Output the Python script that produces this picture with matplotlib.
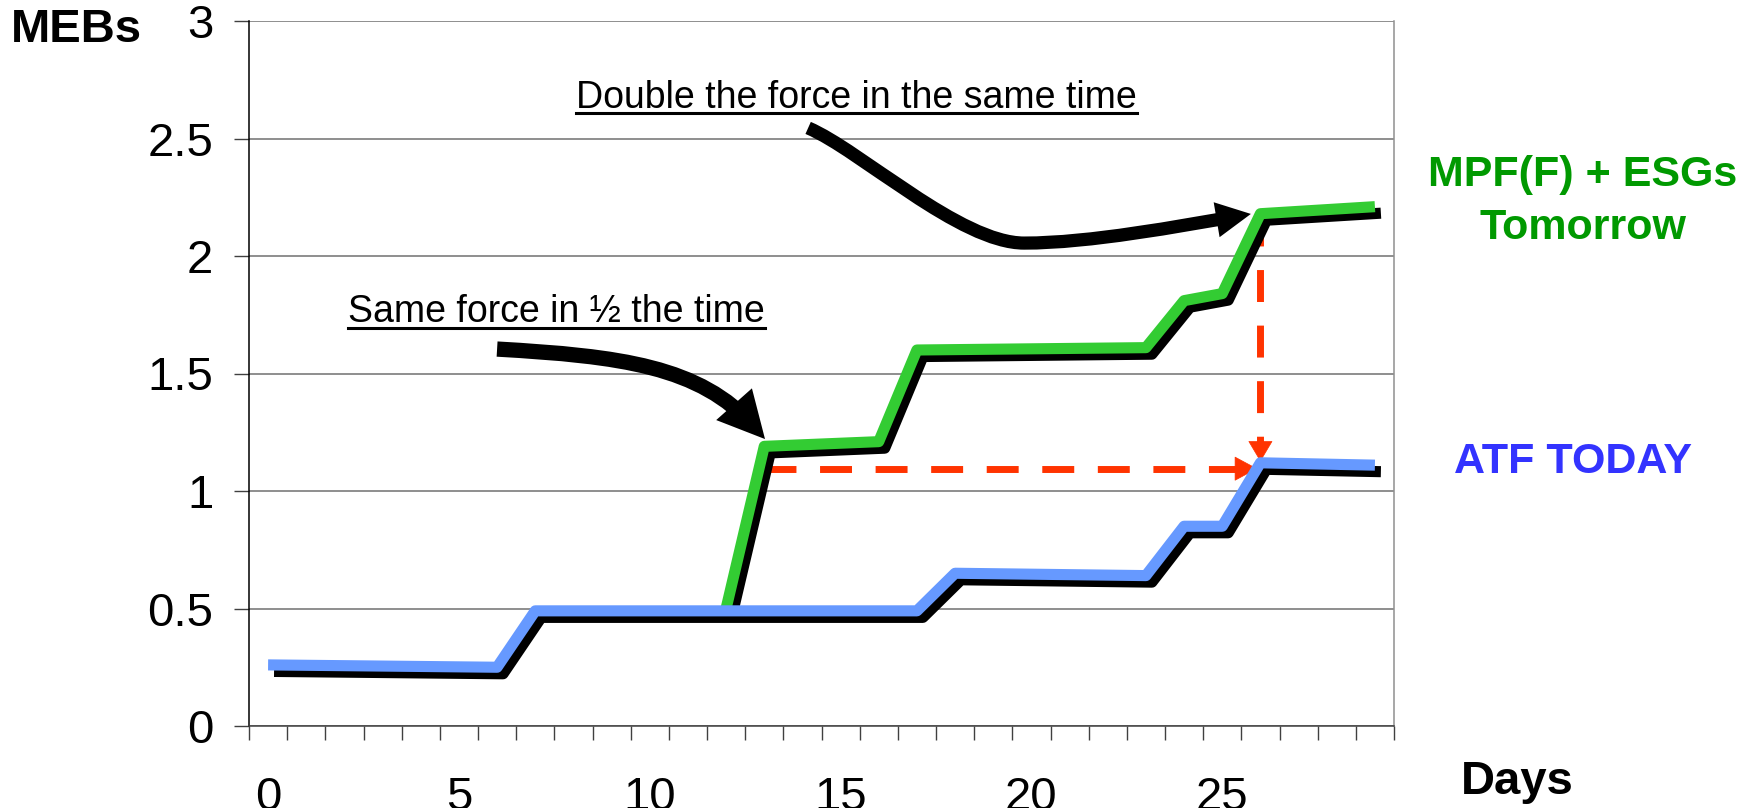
"""MEBs over days: ATF today versus MPF(F) + ESGs tomorrow."""

import matplotlib

matplotlib.use("Agg")
import matplotlib.patheffects as pe
import matplotlib.pyplot as plt
import numpy as np
from matplotlib.lines import Line2D
from matplotlib.patches import FancyArrowPatch
from matplotlib.path import Path

# --- data ------------------------------------------------------------------
atf_days = [0, 6, 7, 17, 18, 23, 24, 25, 26, 29]
atf_mebs = [0.26, 0.25, 0.49, 0.49, 0.65, 0.64, 0.85, 0.85, 1.12, 1.11]

mpf_days = [12, 13, 16, 17, 23, 24, 25, 26, 29]
mpf_mebs = [0.50, 1.19, 1.21, 1.60, 1.61, 1.81, 1.84, 2.18, 2.21]

x_tick_values = [0, 5, 10, 15, 20, 25]
y_tick_values = [0, 0.5, 1, 1.5, 2, 2.5, 3]
y_tick_labels = ["0", "0.5", "1", "1.5", "2", "2.5", "3"]

W, H = 1745, 808
GREEN_LINE = "#33CC33"
BLUE_LINE = "#6699FF"
RED = "#FF3300"


def fx(px):
    return px / W


def fy(py):
    return 1 - py / H


plt.rcParams["font.family"] = ["Liberation Sans", "DejaVu Sans"]

fig = plt.figure(figsize=(W / 100, H / 100), dpi=100)
ax = fig.add_axes([fx(249), fy(726), fx(1394 - 249), (726 - 21) / H])

ax.set_xlim(-0.5, 29.5)
ax.set_ylim(0, 3)

ax.set_xticks(x_tick_values)
ax.set_xticks(np.arange(-0.5, 30, 1), minor=True)
ax.set_yticks(y_tick_values, labels=y_tick_labels)
ax.tick_params(axis="x", which="major", length=0, pad=36, labelsize=34)
ax.tick_params(axis="x", which="minor", length=10, width=1, color="#404040")
ax.tick_params(axis="y", length=10.8, width=1, pad=15, labelsize=34, color="#404040")

ax.yaxis.grid(True, color="#707070", lw=1.1)
ax.set_axisbelow(True)
ax.spines["top"].set_visible(False)
ax.spines["right"].set_color("#909090")
ax.spines["left"].set_color("black")
ax.spines["bottom"].set_color("#404040")
for s in ax.spines.values():
    s.set_linewidth(1.1)

# --- red dashed guides (under the lines) ------------------------------------
dash = (0, (4.6, 3.4))
head = dict(color=RED, lw=0.5, mutation_scale=1, shrinkA=0, shrinkB=0)
ax.plot([13.0, 25.38], [1.095, 1.095], color=RED, lw=5, ls=dash, zorder=2)
ax.annotate("", xy=(25.92, 1.095), xytext=(25.36, 1.095), zorder=2,
            arrowprops=dict(arrowstyle="-|>,head_length=15.5,head_width=8.3", **head))
ax.plot([26, 26], [2.18, 1.20], color=RED, lw=5, ls=dash, zorder=2)
ax.annotate("", xy=(26, 1.125), xytext=(26, 1.21), zorder=2,
            arrowprops=dict(arrowstyle="-|>,head_length=14,head_width=8.3", **head))

# --- the two series, each with a black drop shadow --------------------------
shadow = [pe.SimpleLineShadow(offset=(4.3, -4.7), shadow_color="black", alpha=1.0),
          pe.Normal()]
ax.plot(mpf_days, mpf_mebs, color=GREEN_LINE, lw=8, solid_joinstyle="round",
        solid_capstyle="butt", path_effects=shadow, zorder=3)
ax.plot(atf_days, atf_mebs, color=BLUE_LINE, lw=8, solid_joinstyle="round",
        solid_capstyle="butt", path_effects=shadow, zorder=4)

# --- curved black call-out arrows -------------------------------------------
C4 = Path.CURVE4
arrow1 = Path([(6.0, 1.604), (9.22, 1.574), (11.32, 1.532), (13.02, 1.221)],
              [Path.MOVETO, C4, C4, C4])
ax.add_patch(FancyArrowPatch(path=arrow1, color="black", lw=11,
                             arrowstyle="-|>,head_length=16,head_width=8.2",
                             mutation_scale=1, joinstyle="miter", capstyle="butt",
                             zorder=5))
arrow2 = Path([(14.15, 2.545), (15.51, 2.451), (18.13, 2.055), (19.81, 2.055),
               (21.54, 2.055), (23.89, 2.128), (25.75, 2.179)],
              [Path.MOVETO, C4, C4, C4, C4, C4, C4])
ax.add_patch(FancyArrowPatch(path=arrow2, color="black", lw=9.5,
                             arrowstyle="-|>,head_length=9.8,head_width=5.0",
                             mutation_scale=1, joinstyle="miter", capstyle="butt",
                             zorder=5))

# --- texts ----------------------------------------------------------------------
fig.text(fx(11), fy(30), "MEBs", fontsize=34, fontweight="bold", va="center", ha="left")
fig.text(fx(1461), fy(794), "Days", fontsize=34, fontweight="bold", va="baseline", ha="left")
fig.text(fx(1583), fy(175), "MPF(F) + ESGs", fontsize=31, fontweight="bold",
         color="#009900", va="center", ha="center")
fig.text(fx(1583), fy(228), "Tomorrow", fontsize=31, fontweight="bold",
         color="#009900", va="center", ha="center")
fig.text(fx(1573), fy(462), "ATF TODAY", fontsize=31, fontweight="bold",
         color="#3333FF", va="center", ha="center")

notes = [
    ("Double the force in the same time", 576, 108, 113),
    ("Same force in \u00bd the time", 348, 322, 328),
]
note_artists = []
for label, x0, base, _ in notes:
    note_artists.append(fig.text(fx(x0), fy(base), label, fontsize=27,
                                 va="baseline", ha="left"))

fig.canvas.draw()
for t, (_, _, _, uy) in zip(note_artists, notes):
    bb = t.get_window_extent()
    fig.add_artist(Line2D([fx(bb.x0), fx(bb.x1)], [fy(uy), fy(uy)],
                          transform=fig.transFigure, color="black", lw=2.2))

fig.savefig("out.png", dpi=100)
